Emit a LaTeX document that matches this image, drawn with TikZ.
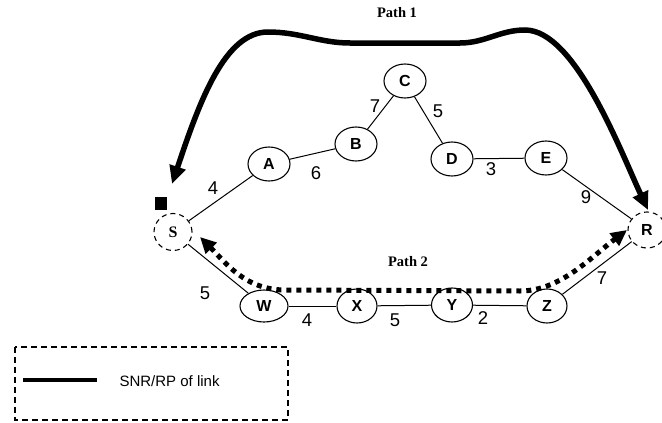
\documentclass[tikz,border=0pt]{standalone}
\usepackage{fontspec}
\setmainfont{Liberation Sans}
\newfontfamily\serifbf{Liberation Serif}
\usetikzlibrary{shapes.geometric,arrows.meta}
\begin{document}
\begin{tikzpicture}[x=1pt,y=-1pt,
  nd/.style={draw,ellipse,line width=1.1pt,minimum width=42pt,minimum height=34pt,inner sep=0pt,font=\fontsize{16}{16}\selectfont\bfseries},
  dnd/.style={nd,dashed,dash pattern=on 5pt off 4pt},
  lnk/.style={line width=1pt},
  wt/.style={font=\fontsize{18.5}{18.5}\selectfont},
  pathlbl/.style={font=\fontsize{14.5}{14.5}\selectfont\serifbf\bfseries},
  bigarrow/.style={line width=5.5pt,{Triangle[length=18pt,width=16pt]}-{Triangle[length=18pt,width=16pt]}},
  dotarrow/.style={line width=5pt,dash pattern=on 5pt off 5pt,{Triangle[length=16pt,width=15pt]}-{Triangle[length=16pt,width=15pt]}}
]
\useasboundingbox (0,0) rectangle (662,423);
% nodes
\node[nd] (C) at (405,81) {C};
\node[nd] (B) at (356,144) {B};
\node[nd] (A) at (269,164) {A};
\node[nd] (D) at (452,159) {D};
\node[nd] (E) at (546,158) {E};
\node[dnd,minimum width=38pt,minimum height=37pt,font=\fontsize{16}{16}\selectfont\serifbf\bfseries] (S) at (173,232) {S};
\node[dnd,minimum width=38pt,minimum height=36pt] (R) at (647,230) {R};
\node[nd,minimum width=48pt,minimum height=32pt] (W) at (264,306) {W};
\node[nd,minimum width=40pt] (X) at (357,306) {X};
\node[nd,minimum width=41pt] (Y) at (452,305) {Y};
\node[nd,minimum width=40pt] (Z) at (547,306) {Z};
% links
\draw[lnk] (S) -- (A);
\draw[lnk] (A) -- (B);
\draw[lnk] (B) -- (C);
\draw[lnk] (C) -- (D);
\draw[lnk] (D) -- (E);
\draw[lnk] (E) -- (R);
\draw[lnk] (S) -- (W);
\draw[lnk] (W) -- (X);
\draw[lnk] (X) -- (Y);
\draw[lnk] (Y) -- (Z);
\draw[lnk] (Z) -- (R);
% weights
\node[wt] (w1) at (213,188) {4};
\node[wt] (w2) at (316,173) {6};
\node[wt] (w3) at (375,106) {7};
\node[wt] (w4) at (438,111) {5};
\node[wt] (w5) at (491,169) {3};
\node[wt] (w6) at (586,197) {9};
\node[wt] (w7) at (205,293) {5};
\node[wt] (w8) at (307,320) {4};
\node[wt] (w9) at (395,320) {5};
\node[wt] (w10) at (483,318) {2};
\node[wt] (w11) at (602,278) {7};
% marker
\fill (155,197) rectangle (167,210);
% path 1
\coordinate (p1s) at (172,184);
\coordinate (p1r) at (648,210);
\draw[bigarrow] (p1s) .. controls (200,100) and (225,32) .. (268,32)
  .. controls (300,32) and (320,43) .. (350,43) -- (460,43)
  .. controls (485,43) and (500,30) .. (525,30)
  .. controls (575,30) and (620,150) .. (p1r);
\node[pathlbl] (l1) at (397,13) {Path 1};
% path 2
\coordinate (p2s) at (200,237);
\coordinate (p2r) at (627,230);
\draw[dotarrow] (p2s) .. controls (225,262) and (245,290) .. (285,290)
  -- (520,291) .. controls (560,291) and (590,258) .. (p2r);
\node[pathlbl] (l2) at (408,262) {Path 2};
% legend
\draw[line width=1.1pt,dash pattern=on 6pt off 4pt] (15,347) rectangle (288,420);
\coordinate (lg1) at (23,380);
\coordinate (lg2) at (97,380);
\draw[line width=4.5pt] (lg1) -- (lg2);
\node[anchor=west,font=\fontsize{15}{15}\selectfont] (lgt) at (116,381) {SNR/RP of link};
\end{tikzpicture}
\end{document}
